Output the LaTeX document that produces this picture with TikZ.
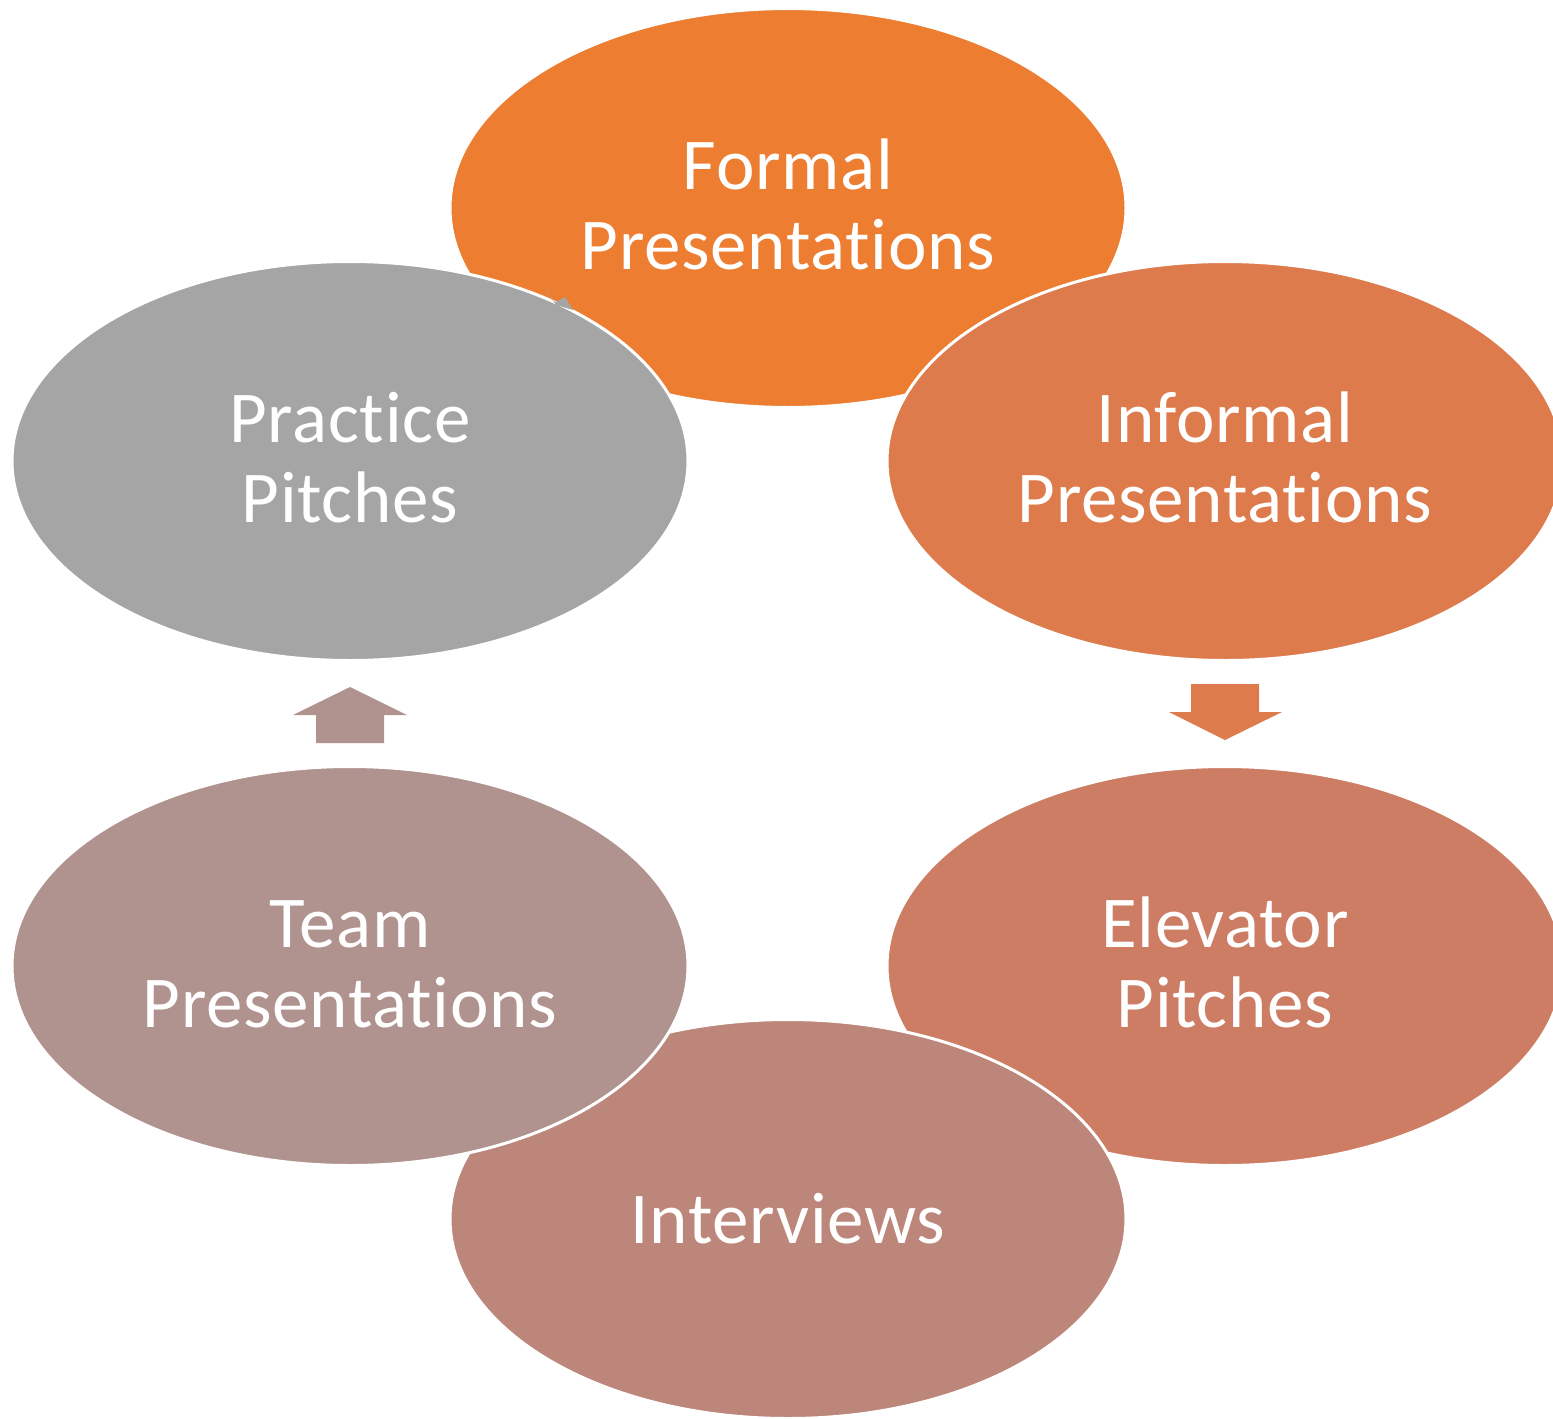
\documentclass[tikz,border=0pt]{standalone}
\usepackage{fontspec}
\setmainfont[Ligatures=NoCommon,LetterSpace=1.0]{Carlito}
\usetikzlibrary{shapes.geometric}
\definecolor{cFormal}{RGB}{237,125,49}
\definecolor{cInformal}{RGB}{221,123,76}
\definecolor{cElevator}{RGB}{205,125,100}
\definecolor{cInterview}{RGB}{188,134,122}
\definecolor{cTeam}{RGB}{176,146,143}
\definecolor{cPractice}{RGB}{165,165,165}
\newcommand{\twolines}[2]{\raisebox{-23pt}{\smash{\begin{tabular}{@{}c@{}}#1\\#2\end{tabular}}}}
\tikzset{
  bubble/.style={ellipse, minimum width=676pt, minimum height=399pt, inner sep=0pt,
    draw=white, line width=3pt, text=white, align=center,
    font=\fontsize{73}{80}\selectfont}
}
\begin{document}
\begin{tikzpicture}[x=1pt,y=-1pt]
\clip (0,0) rectangle (1553,1419);
\node[bubble, fill=cFormal] (formal) at (788,208) {\twolines{Formal}{Presentations}};
\node[bubble, fill=cInformal] (informal) at (1225,461) {\twolines{Informal}{Presentations}};
\node[bubble, fill=cElevator] (elevator) at (1225,966) {\twolines{Elevator}{Pitches}};
\node[bubble, fill=cInterview] (interviews) at (788,1219) {Interviews};
\node[bubble, fill=cTeam] (team) at (350,966) {\twolines{Team}{Presentations}};
\node[bubble, fill=cPractice] (practice) at (350,461) {\twolines{Practice}{Pitches}};
% block arrows
\fill[cInformal] (1191,684) -- (1259,684) -- (1259,712) -- (1282,712) -- (1225,740) -- (1169,712) -- (1191,712) -- cycle;
\fill[cTeam] (316,743) -- (384,743) -- (384,715) -- (407,715) -- (350,687) -- (293,715) -- (316,715) -- cycle;
% visible tip of the arrow from practice to formal
\fill[cPractice] (544,287) -- (552,300) -- (556,302) -- (565,297) -- (573,310) -- (556,305) -- cycle;
\end{tikzpicture}
\end{document}
